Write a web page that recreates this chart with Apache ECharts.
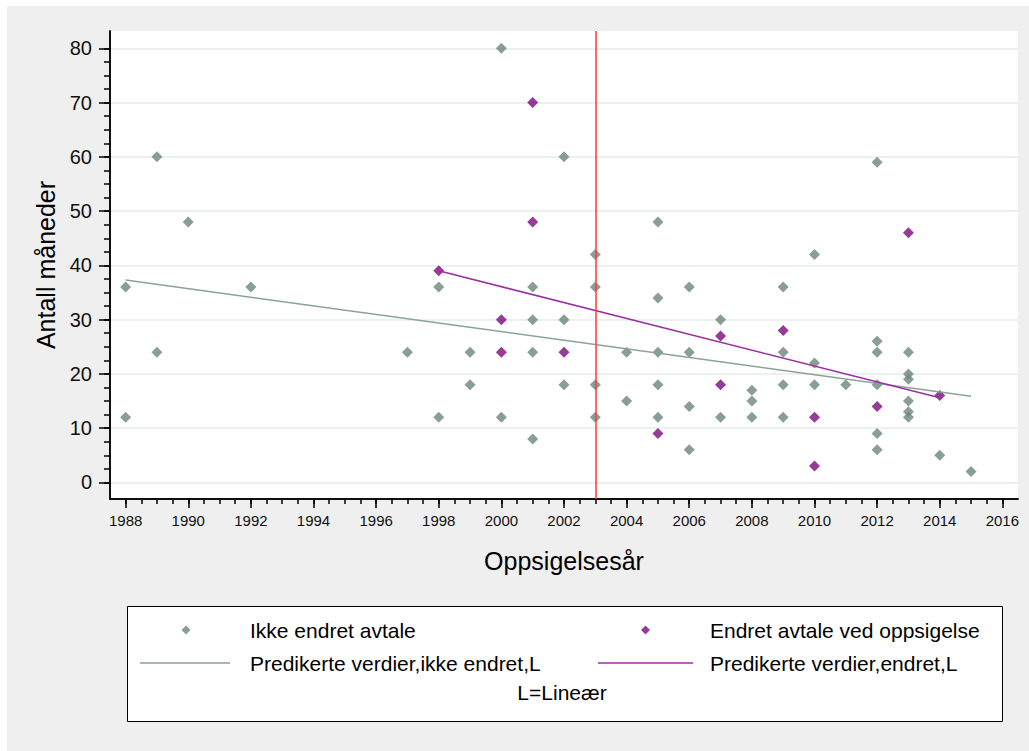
<!DOCTYPE html>
<html>
<head>
<meta charset="utf-8">
<script src="https://cdn.jsdelivr.net/npm/echarts@6/dist/echarts.min.js"></script>
<style>
html,body{margin:0;padding:0;background:#fff;}
#chart{width:1029px;height:751px;}
</style>
</head>
<body>
<div id="chart"></div>
<script>
// ---- data ----
const ikkeEndret = [
  [1988,36],[1988,12],[1989,60],[1989,24],[1990,48],[1992,36],[1997,24],
  [1998,36],[1998,12],[1999,24],[1999,18],[2000,80],[2000,12],
  [2001,36],[2001,30],[2001,24],[2001,8],[2002,60],[2002,30],[2002,18],
  [2003,42],[2003,36],[2003,18],[2003,12],[2004,24],[2004,15],
  [2005,48],[2005,34],[2005,24],[2005,18],[2005,12],
  [2006,36],[2006,24],[2006,14],[2006,6],[2007,30],[2007,12],
  [2008,17],[2008,15],[2008,12],[2009,36],[2009,24],[2009,18],[2009,12],
  [2010,42],[2010,22],[2010,18],[2011,18],
  [2012,59],[2012,26],[2012,24],[2012,18],[2012,9],[2012,6],
  [2013,24],[2013,20],[2013,19],[2013,15],[2013,13],[2013,12],
  [2014,5],[2015,2]
];
const endret = [
  [1998,39],[2000,30],[2000,24],[2001,70],[2001,48],[2002,24],[2005,9],
  [2007,27],[2007,18],[2009,28],[2010,12],[2010,3],[2012,14],[2013,46],[2014,16]
];
const fitIkkeEndret = [[1988,37.3],[2015,15.9]];
const fitEndret = [[1998,39.0],[2014,15.6]];
const cutoffYear = 2003;
const xTicks = [1988,1990,1992,1994,1996,1998,2000,2002,2004,2006,2008,2010,2012,2014,2016];
const yTicks = [0,10,20,30,40,50,60,70,80];
const names = ['Ikke endret avtale','Endret avtale ved oppsigelse','Predikerte verdier,ikke endret,L','Predikerte verdier,endret,L'];
const noteText = 'L=Lineær';
const xTitle = 'Oppsigelsesår';
const yTitle = 'Antall måneder';

// minor tick positions (axis decoration)
const xMinor = []; for (let v = xTicks[0]; v <= xTicks[xTicks.length-1]; v += 0.5) xMinor.push(v);
const yMinor = []; for (let v = yTicks[0]; v <= yTicks[yTicks.length-1]; v += 2.5) yMinor.push(v);

const FONT = "'Liberation Sans', Arial, sans-serif";
const GREEN = '#6b877a', PURPLE = '#7c0a7c';
const GREEN_LINE = '#8aa397', PURPLE_LINE = '#9c2ea0';
const X_MIN = 1987.5, X_MAX = 2016.5, Y_MIN = -3.06, Y_MAX = 83.2;

const legendText = (pad) => ({fontSize:21, lineHeight:24, color:'#000', fontFamily:FONT, padding:[0,0,0,pad]});

const chart = echarts.init(document.getElementById('chart'), null, {renderer:'svg'});
chart.setOption({
  backgroundColor: '#efefef',
  animation: false,
  textStyle: {fontFamily: FONT},
  grid: {left:110, top:31, width:908, height:468, show:true, backgroundColor:'#ffffff', borderWidth:0},
  graphic: [
    {type:'rect', shape:{x:0,y:0,width:1029,height:6}, style:{fill:'#ffffff'}, silent:true},
    {type:'rect', shape:{x:0,y:0,width:7,height:751}, style:{fill:'#ffffff'}, silent:true},
    {type:'rect', shape:{x:127.5,y:606.5,width:875,height:115}, style:{fill:'#ffffff', stroke:'#000000', lineWidth:1}, silent:true, z:1},
    {type:'text', x:562, y:692, style:{text:noteText, fill:'#000', font:"21px 'Liberation Sans', Arial, sans-serif", textAlign:'center', textVerticalAlign:'middle'}, z:5, silent:true}
  ],
  xAxis: [
    {type:'value', min:X_MIN, max:X_MAX, position:'bottom',
     name:xTitle, nameLocation:'middle', nameGap:49,
     nameTextStyle:{fontSize:25, color:'#000', fontFamily:FONT},
     axisLine:{show:true, onZero:false, lineStyle:{color:'#000', width:1.5}},
     axisTick:{show:true, length:9, customValues:xTicks, lineStyle:{color:'#000', width:1.5}},
     axisLabel:{customValues:xTicks, margin:14, fontSize:15, color:'#111', fontFamily:FONT,
                formatter:(v) => String(v)},
     splitLine:{show:false}},
    {type:'value', min:X_MIN, max:X_MAX, position:'bottom',
     axisLine:{show:true, onZero:false, lineStyle:{color:'#000', width:1.5}},
     axisTick:{show:true, length:5, customValues:xMinor, lineStyle:{color:'#000', width:1.5}},
     axisLabel:{show:true, customValues:xMinor, formatter:() => ''}, splitLine:{show:false}}
  ],
  yAxis: [
    {type:'value', min:Y_MIN, max:Y_MAX, position:'left',
     name:yTitle, nameLocation:'middle', nameGap:52,
     nameTextStyle:{fontSize:25, color:'#000', fontFamily:FONT},
     axisLine:{show:true, onZero:false, lineStyle:{color:'#000', width:1.5}},
     axisTick:{show:true, length:11, customValues:yTicks, lineStyle:{color:'#000', width:1.5}},
     axisLabel:{customValues:yTicks, margin:18, fontSize:20, color:'#111', fontFamily:FONT},
     splitLine:{show:true, lineStyle:{color:'#e2ecee', width:1.5}}},
    {type:'value', min:Y_MIN, max:Y_MAX, position:'left', offset:0,
     axisLine:{show:true, onZero:false, lineStyle:{color:'#000', width:1.5}},
     axisTick:{show:true, length:6, customValues:yMinor, lineStyle:{color:'#000', width:1.5}},
     axisLabel:{show:true, customValues:yMinor, formatter:() => ''}, splitLine:{show:false}}
  ],
  legend: [
    {left:181.5, top:618, padding:0, itemWidth:9, itemHeight:9, selectedMode:false,
     data:[{name:names[0], icon:'diamond'}], textStyle:legendText(54.5)},
    {left:140, top:651, padding:0, itemWidth:90, itemHeight:1.5, selectedMode:false,
     data:[{name:names[2], icon:'rect'}], textStyle:legendText(15)},
    {left:641, top:618, padding:0, itemWidth:9, itemHeight:9, selectedMode:false,
     data:[{name:names[1], icon:'diamond'}], textStyle:legendText(55)},
    {left:598, top:651, padding:0, itemWidth:95, itemHeight:1.5, selectedMode:false,
     data:[{name:names[3], icon:'rect'}], textStyle:legendText(12)}
  ],
  series: [
    {name:names[0], type:'scatter', data:ikkeEndret, symbol:'diamond', symbolSize:11,
     itemStyle:{color:GREEN}, z:3},
    {name:names[1], type:'scatter', data:endret, symbol:'diamond', symbolSize:11,
     itemStyle:{color:PURPLE}, z:3},
    {name:names[2], type:'line', data:fitIkkeEndret, symbol:'none', showSymbol:false,
     lineStyle:{color:GREEN_LINE, width:1.5}, itemStyle:{color:GREEN_LINE}, z:4,
     markLine:{silent:true, symbol:['none','none'], label:{show:false},
       lineStyle:{color:'#ff3b30', width:1.5, type:'solid'},
       data:[{xAxis:cutoffYear}]}},
    {name:names[3], type:'line', data:fitEndret, symbol:'none', showSymbol:false,
     lineStyle:{color:PURPLE_LINE, width:1.5}, itemStyle:{color:PURPLE_LINE}, z:4}
  ]
});
</script>
</body>
</html>
